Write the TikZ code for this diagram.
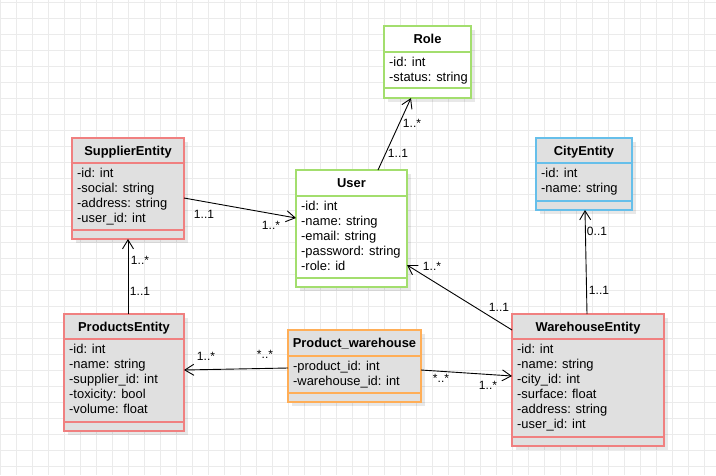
\documentclass[tikz,border=0pt]{standalone}
\usepackage{fontspec}
\setmainfont{Liberation Sans}
\usetikzlibrary{arrows.meta,calc,shadows}
\definecolor{cred}{HTML}{F08080}
\definecolor{cgreen}{HTML}{A3DE6E}
\definecolor{cblue}{HTML}{66BFEA}
\definecolor{corange}{HTML}{FFAE57}
\definecolor{cfill}{HTML}{E0E0E0}
\definecolor{cgrid}{HTML}{EBEBEB}
\begin{document}
\begin{tikzpicture}[x=1pt,y=-1pt,
  gridl/.style={draw=cgrid, line width=0.9pt},
  box/.style={draw, line width=1.4pt, anchor=north west, inner sep=0pt, outer sep=0pt,
    drop shadow={shadow xshift=3.5pt, shadow yshift=-3.5pt, fill=black, opacity=0.09}},
  sepl/.style={line width=1.4pt},
  ttl/.style={font=\fontsize{12.9}{15}\selectfont\bfseries, anchor=base, inner sep=0pt},
  attr/.style={font=\fontsize{12.9}{15}\selectfont, anchor=north west, inner sep=0pt, align=left},
  conn/.style={draw, line width=0.9pt, -{Straight Barb[length=9pt,width=11pt,line width=0.9pt]}},
  lbl/.style={font=\fontsize{12}{14}\selectfont, inner sep=0pt}]
\useasboundingbox (0,0) rectangle (716,475);
\fill[white] (0,0) rectangle (716,475);
\foreach \i in {0,...,44}{\draw[gridl] ({0.5+16*\i},0) -- ({0.5+16*\i},475);}
\foreach \i in {0,...,29}{\draw[gridl] (0,{2+16*\i}) -- (716,{2+16*\i});}

% Role
\node[box, draw=cgreen, fill=white, minimum width=87pt, minimum height=72pt] (role) at (384,26) {};
\draw[sepl, cgreen] ([yshift=-26pt]role.north west) -- ([yshift=-26pt]role.north east);
\draw[sepl, cgreen] ([yshift=10pt]role.south west) -- ([yshift=10pt]role.south east);
\node[ttl] (roleT) at ([yshift=-17pt]role.north) {Role};
\node[attr] (roleA) at ([xshift=5pt,yshift=-30pt]role.north west) {\strut-id: int\\\strut-status: string};

% SupplierEntity
\node[box, draw=cred, fill=cfill, minimum width=112pt, minimum height=101pt] (sup) at (72,138) {};
\draw[sepl, cred] ([yshift=-25pt]sup.north west) -- ([yshift=-25pt]sup.north east);
\draw[sepl, cred] ([yshift=9pt]sup.south west) -- ([yshift=9pt]sup.south east);
\node[ttl] (supT) at ([yshift=-17pt]sup.north) {SupplierEntity};
\node[attr] (supA) at ([xshift=5pt,yshift=-29pt]sup.north west) {\strut-id: int\\\strut-social: string\\\strut-address: string\\\strut-user\_id: int};

% User
\node[box, draw=cgreen, fill=white, minimum width=111pt, minimum height=117pt] (user) at (296,170) {};
\draw[sepl, cgreen] ([yshift=-26pt]user.north west) -- ([yshift=-26pt]user.north east);
\draw[sepl, cgreen] ([yshift=9pt]user.south west) -- ([yshift=9pt]user.south east);
\node[ttl] (userT) at ([yshift=-17pt]user.north) {User};
\node[attr] (userA) at ([xshift=5pt,yshift=-30pt]user.north west) {\strut-id: int\\\strut-name: string\\\strut-email: string\\\strut-password: string\\\strut-role: id};

% CityEntity
\node[box, draw=cblue, fill=cfill, minimum width=96pt, minimum height=72pt] (city) at (536,138) {};
\draw[sepl, cblue] ([yshift=-25pt]city.north west) -- ([yshift=-25pt]city.north east);
\draw[sepl, cblue] ([yshift=9pt]city.south west) -- ([yshift=9pt]city.south east);
\node[ttl] (cityT) at ([yshift=-17pt]city.north) {CityEntity};
\node[attr] (cityA) at ([xshift=5pt,yshift=-29pt]city.north west) {\strut-id: int\\\strut-name: string};

% ProductsEntity
\node[box, draw=cred, fill=cfill, minimum width=120pt, minimum height=117pt] (prod) at (64,314) {};
\draw[sepl, cred] ([yshift=-25pt]prod.north west) -- ([yshift=-25pt]prod.north east);
\draw[sepl, cred] ([yshift=9pt]prod.south west) -- ([yshift=9pt]prod.south east);
\node[ttl] (prodT) at ([yshift=-17pt]prod.north) {ProductsEntity};
\node[attr] (prodA) at ([xshift=5pt,yshift=-29pt]prod.north west) {\strut-id: int\\\strut-name: string\\\strut-supplier\_id: int\\\strut-toxicity: bool\\\strut-volume: float};

% Product_warehouse
\node[box, draw=corange, fill=cfill, minimum width=133pt, minimum height=72pt] (pw) at (288,330) {};
\draw[sepl, corange] ([yshift=-26pt]pw.north west) -- ([yshift=-26pt]pw.north east);
\draw[sepl, corange] ([yshift=9pt]pw.south west) -- ([yshift=9pt]pw.south east);
\node[ttl] (pwT) at ([yshift=-17pt]pw.north) {Product\_warehouse};
\node[attr] (pwA) at ([xshift=5pt,yshift=-30pt]pw.north west) {\strut-product\_id: int\\\strut-warehouse\_id: int};

% WarehouseEntity
\node[box, draw=cred, fill=cfill, minimum width=152pt, minimum height=132pt] (wh) at (512,314) {};
\draw[sepl, cred] ([yshift=-25pt]wh.north west) -- ([yshift=-25pt]wh.north east);
\draw[sepl, cred] ([yshift=9pt]wh.south west) -- ([yshift=9pt]wh.south east);
\node[ttl] (whT) at ([yshift=-17pt]wh.north) {WarehouseEntity};
\node[attr] (whA) at ([xshift=5pt,yshift=-29pt]wh.north west) {\strut-id: int\\\strut-name: string\\\strut-city\_id: int\\\strut-surface: float\\\strut-address: string\\\strut-user\_id: int};

% connectors
\draw[conn] ($(user.north)+(26.5,0)$) -- ($(role.south)+(-16.5,0)$);
\draw[conn] ($(sup.east)+(0,9.5)$) -- ($(user.west)+(0,-10.5)$);
\draw[conn] ($(prod.north)+(4,0)$) -- (sup.south);
\draw[conn] ($(wh.north)+(-1,0)$) -- ($(city.south)+(1,0)$);
\draw[conn] ($(wh.west)+(0,-50)$) -- ($(user.east)+(0,36.5)$);
\draw[conn] ($(pw.west)+(0,2)$) -- ($(prod.east)+(0,-2.5)$);
\draw[conn] ($(pw.east)+(0,4)$) -- ($(wh.west)+(0,-4)$);

% labels
\node[lbl] (l1a) at (412,123) {1..*};
\node[lbl] (l1b) at (398,153) {1..1};
\node[lbl] (l2a) at (204,214) {1..1};
\node[lbl] (l2b) at (271,225) {1..*};
\node[lbl] (l3a) at (140,260) {1..*};
\node[lbl] (l3b) at (140,291) {1..1};
\node[lbl] (l4a) at (597,231) {0..1};
\node[lbl] (l4b) at (599,290) {1..1};
\node[lbl] (l5a) at (432,266) {1..*};
\node[lbl] (l5b) at (499,307) {1..1};
\node[lbl] (l6a) at (206,356) {1..*};
\node[lbl] (l6b) at (265,354) {*..*};
\node[lbl] (l7a) at (441,378) {*..*};
\node[lbl] (l7b) at (488,385) {1..*};
\end{tikzpicture}
\end{document}
